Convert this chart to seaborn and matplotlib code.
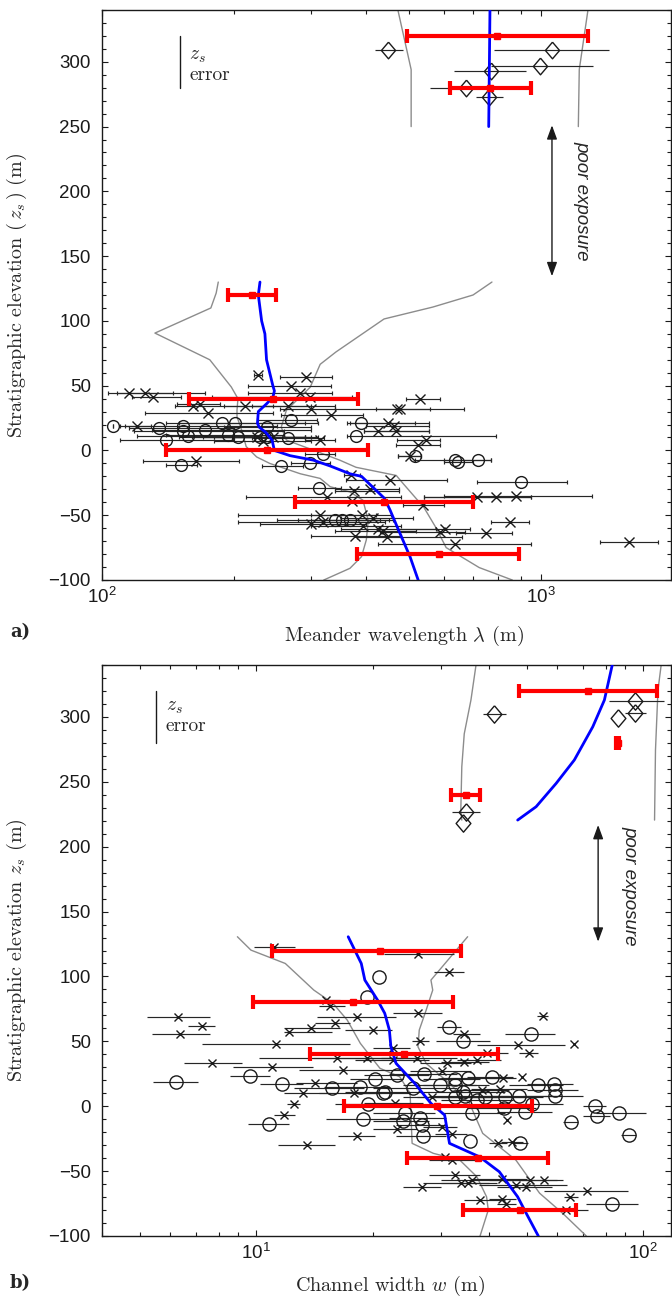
import numpy as np
import pandas as pd
import matplotlib
matplotlib.use("Agg")
import matplotlib.pyplot as plt
import seaborn as sns
from matplotlib import ticker

# ---------------- panel a : meander wavelength ----------------
# (z_s, lambda, lambda_low, lambda_high)
a_crosses = [
    (58, 227, 222, 232), (57, 291, 254, 334), (50, 270, 215, 333),
    (44.5, 115, 103, 145), (44.5, 125, 108, 172), (41, 131, 117, 151),
    (44, 283, 215, 334), (41, 298, 178, 371), (40, 530, 492, 589),
    (36, 167, 148, 186), (34, 161, 147, 245), (29, 174, 125, 245),
    (34, 212, 190, 300), (34, 265, 220, 340), (32, 300, 255, 340),
    (32, 470, 340, 668), (32, 478, 420, 560), (27, 332, 256, 393),
    (21, 449, 368, 556), (19, 462, 400, 556), (15, 425, 395, 556),
    (15, 468, 395, 556), (8, 548, 470, 588), (4, 525, 468, 588),
    (-4, 503, 472, 533), (19, 120, 113, 129), (10, 226, 160, 290),
    (10, 245, 200, 310), (7.4, 233, 180, 300), (8, 314, 290, 340),
    (-8, 164, 124, 205), (-19, 369, 356, 386), (-23, 453, 360, 611),
    (-31, 374, 340, 476), (-30, 408, 340, 476), (-36, 713, 540, 950),
    (-36, 790, 540, 950), (-35, 879, 600, 1305), (-42, 539, 485, 600),
    (-39, 371, 300, 440), (-36, 325, 213, 480), (-50, 391, 300, 455),
    (-52, 415, 350, 510), (-55, 850, 770, 937), (-58, 393, 300, 480),
    (-61, 425, 350, 577), (-62, 437, 340, 520), (-63, 589, 430, 670),
    (-61, 605, 470, 690), (-64, 750, 640, 857), (-66, 376, 300, 480),
    (-67, 445, 380, 660), (-72, 636, 426, 950), (-71, 1584, 1363, 1849),
    (-50, 314, 204, 420), (-55, 318, 204, 440), (-57, 300, 229, 400),
]
a_circles = [
    (19, 106, 106, 106), (17, 135, 115, 200), (18.6, 153, 110, 250),
    (15, 153, 118, 260), (15.6, 172, 130, 300), (21, 188, 140, 290),
    (21.5, 201, 150, 310), (12, 194, 140, 260), (10, 204, 150, 290),
    (18, 237, 190, 300), (10, 229, 170, 290), (10, 237, 180, 300),
    (9.3, 265, 220, 320), (7.8, 140, 110, 200), (11, 157, 120, 230),
    (23.4, 270, 225, 309), (21, 389, 361, 516), (11, 379, 361, 790),
    (-4, 516, 472, 533), (-7, 636, 516, 770), (-9, 647, 600, 700),
    (-7, 719, 600, 770), (-24, 902, 713, 1144), (-11, 151, 140, 165),
    (-12, 256, 231, 287), (-9.5, 297, 270, 330), (-2.4, 318, 290, 340),
    (-29, 312, 280, 350), (-54, 340, 250, 430), (-54, 352, 280, 450),
    (-54, 368, 300, 460),
]
a_diamonds = [
    (309, 449, 418, 484), (309, 1057, 782, 1425), (297, 995, 769, 1316),
    (293, 768, 635, 926), (279.5, 674, 560, 698), (272.6, 761, 710, 818),
]
a_bin_z = [320, 280, 120, 40, 0, -40, -80]
a_bin_mid = [794, 766, 220, 245, 238, 439, 586]
a_bin_lo = [495, 621, 194, 158, 140, 275, 381]
a_bin_hi = [1279, 948, 249, 383, 404, 700, 891]

a_med_top_z = [340, 250]
a_med_top = [765, 760]
a_med_low_z = [130, 120, 100, 90, 70, 50, 46, 41, 36, 30, 21, 18, 14, 8, 0,
               -4, -7.5, -12, -18, -20, -37, -46, -61, -82, -100]
a_med_low = [229, 227, 231, 235, 237, 245, 247, 245, 237, 227, 226, 228, 236,
             244, 247, 268, 303, 331, 367, 390, 440, 453, 473, 503, 525]

a_p1_top_z = [340, 294, 250]
a_p1_top = [472, 506, 506]
a_p2_top_z = [340, 294, 250]
a_p2_top = [1279, 1222, 1216]
a_p1_low_z = [130, 121.5, 110, 90.6, 70, 49, 40, 31, 26, 15.7, 3, -5, -10,
              -18, -21.6, -28, -32, -38.4, -54, -69, -82, -91, -100]
a_p1_low = [184, 182, 177, 132, 176, 197, 204, 203, 203, 208, 213, 225, 241,
            283, 314, 331, 367, 393, 404, 400, 390, 367, 320]
a_p2_low_z = [130, 120, 110.7, 101.5, 76, 66.5, 48.8, 31, 18, 8, 0.2, -7.5,
              -13, -19.3, -25.5, -44, -59.5, -75, -90.4, -100]
a_p2_low = [773, 700, 567, 439, 341, 314, 298, 263, 256, 263, 303, 348, 379,
            468, 485, 541, 576, 608, 723, 860]

# ---------------- panel b : channel width ----------------
b_crosses = [
    (123, 11.1, 9.9, 12.6), (117, 26.2, 21.4, 32.5), (103.6, 31.6, 28.9, 34.5),
    (69, 6.30, 5.22, 7.61), (62, 7.24, 6.68, 7.84), (56, 6.36, 5.40, 7.61),
    (48, 11.26, 7.24, 17.5), (33, 7.7, 6.5, 9.2), (30, 11.0, 8.7, 14.0),
    (18, 14.2, 12.7, 18.2), (10, 13.2, 11.8, 15.5), (2, 12.5, 12.0, 13.0),
    (-7, 11.8, 11.1, 12.6), (-30, 13.5, 11.4, 16.0), (82, 15.2, 14.0, 16.5),
    (77, 15.5, 14.5, 17.0), (69, 18.2, 14.4, 23.0), (64, 16.0, 14.2, 17.5),
    (57, 12.2, 11.8, 15.7), (60, 13.9, 11.8, 16.5), (59, 20.0, 17.0, 22.5),
    (37, 16.2, 10.2, 24.0), (37, 19.3, 14.0, 26.0), (28, 16.8, 12.9, 24.0),
    (10, 17.9, 14.5, 21.0), (-23, 18.2, 16.3, 20.3), (72, 26.2, 22.6, 30.2),
    (69.5, 55.1, 53.1, 56.9), (55.6, 34.5, 32.3, 37.9), (50, 26.5, 25.3, 28.0),
    (47, 47.4, 37.2, 62.7), (48, 66.1, 66.1, 66.1), (41, 50.7, 47.9, 53.6),
    (45, 22.6, 20.0, 25.0), (41, 39.5, 33.0, 44.8), (36, 22.6, 18.0, 28.0),
    (37, 26.0, 21.0, 33.0), (33, 31.1, 26.5, 36.0), (34, 34.5, 30.0, 40.0),
    (35.6, 37.2, 33.0, 43.0), (27, 30.2, 25.0, 36.0), (21.4, 43.5, 40.0, 47.0),
    (22.2, 48.7, 48.7, 48.7), (12.9, 42.7, 36.0, 50.0), (12.4, 38.3, 33.0, 45.0),
    (6.8, 28.4, 24.0, 33.0), (2.2, 22.8, 19.0, 27.0), (-10.7, 44.5, 44.5, 44.5),
    (-15.8, 30.2, 27.0, 33.0), (-21.5, 32.0, 29.0, 35.0), (-17.8, 23.1, 20.0, 26.0),
    (-28.2, 42.2, 40.0, 44.5), (-27.4, 45.7, 43.0, 49.0), (-39, 30.8, 28.0, 35.0),
    (-41.5, 32.0, 28.0, 37.0), (-53, 32.7, 28.0, 38.0), (-56.5, 36.1, 30.0, 45.0),
    (-59, 35.3, 30.0, 42.0), (-59.5, 33.9, 27.0, 40.0), (-55.7, 43.1, 36.0, 50.0),
    (-56.5, 51.0, 40.0, 60.0), (-57, 55.3, 45.0, 62.0), (-62, 49.9, 42.0, 58.0),
    (-60.8, 47.0, 37.7, 63.6), (-62, 26.8, 24.0, 30.0), (-65.5, 71.5, 55.6, 91.6),
    (-69.8, 64.8, 62.6, 67.8), (-72.3, 37.9, 34.5, 43.9), (-71.5, 43.3, 40.0, 47.0),
    (-75.4, 44.3, 42.0, 47.0), (-80, 63.3, 55.0, 72.0),
]
b_circles = [
    (19, 6.2, 5.43, 7.07), (23, 9.65, 8.57, 10.86), (17, 11.65, 10.24, 13.25),
    (-14, 10.8, 9.55, 12.2), (14, 15.7, 12.5, 19.0), (15, 18.6, 15.0, 22.0),
    (21, 20.3, 17.5, 24.0), (10, 21.3, 18.0, 25.0), (2, 19.5, 16.0, 23.0),
    (-10, 18.9, 15.2, 23.5), (99.5, 20.8, 20.8, 20.8), (84, 19.3, 19.3, 19.3),
    (61, 31.5, 29.3, 33.9), (56, 51.2, 43.9, 59.2), (50, 34.2, 29.1, 40.2),
    (24, 23.1, 19.0, 28.0), (24.5, 27.1, 22.0, 33.0), (21.4, 35.3, 30.0, 42.0),
    (22.5, 40.6, 35.0, 46.0), (21, 32.7, 27.0, 38.0), (16.3, 29.8, 24.0, 37.0),
    (13.8, 25.5, 20.0, 33.0), (11, 21.5, 17.0, 27.0), (16.3, 32.6, 27.0, 40.0),
    (11, 34.3, 27.0, 44.0), (7, 32.7, 26.0, 42.0), (8, 34.6, 28.0, 45.0),
    (7.3, 39.1, 30.0, 52.0), (5, 37.2, 30.0, 46.0), (7.3, 43.9, 35.0, 55.0),
    (8, 47.7, 38.0, 60.0), (1.5, 51.5, 42.0, 62.0), (16.3, 53.4, 45.0, 62.0),
    (17.5, 58.8, 50.0, 66.0), (12.4, 59.2, 50.0, 68.0), (8, 59.2, 49.0, 70.0),
    (0.4, 75.0, 70.0, 80.0), (-7.5, 76.0, 70.0, 82.0), (-5.5, 86.5, 75.6, 101.9),
    (-12, 65.2, 62.0, 68.0), (-22.3, 91.7, 87.7, 95.9), (-5, 36.1, 30.0, 44.0),
    (-1.7, 43.7, 35.0, 53.0), (-4.3, 49.5, 42.0, 58.0), (-5, 24.2, 20.0, 29.0),
    (-11.5, 24.0, 20.0, 28.0), (-9.4, 26.5, 22.0, 31.0), (-14.5, 26.8, 23.0, 31.0),
    (-23, 27.0, 23.0, 31.0), (-26.6, 35.8, 35.8, 35.8), (-28.2, 48.1, 46.0, 50.5),
    (-75, 82.9, 71.3, 96.9),
]
b_diamonds = [
    (302, 41.3, 38.5, 44.3), (312.5, 95.5, 81.5, 113.5), (303, 95.0, 89.5, 101.5),
    (299, 86, 86, 86), (226.5, 34.9, 32.1, 37.8), (218.5, 34.3, 34.3, 34.3),
]
b_bin_z = [320, 280, 240, 120, 80, 40, 0, -40, -80]
b_bin_mid = [72.2, 86, 34.9, 20.9, 17.8, 24.1, 29.4, 37.4, 48.1]
b_bin_lo = [47.7, 85.3, 31.9, 11.0, 9.84, 13.8, 16.9, 24.6, 34.2]
b_bin_hi = [108.6, 86.7, 37.9, 33.9, 32.2, 42.1, 51.5, 56.8, 67.1]

b_med_top_z = [340, 313, 292.4, 266.8, 248.8, 230.8, 220.5]
b_med_top = [83.2, 79.4, 74.1, 66.4, 59.6, 52.9, 47.4]
b_med_low_z = [130.6, 110, 97.2, 81.8, 71.6, 58.7, 45.8, 33, 17.6, 2.2, -6.8,
               -28.6, -39, -50.5, -69.8, -82.6, -100]
b_med_low = [17.3, 18.7, 19.1, 20.6, 21.5, 22.1, 22.3, 23.0, 25.7, 28.3, 30.7,
             31.6, 37.8, 42.5, 47.4, 49.9, 53.6]

b_p1_top_z = [340, 313, 287, 261.6, 228, 220.5]
b_p1_top = [37.0, 35.9, 34.5, 34.0, 33.8, 34.0]
b_p2_top_z = [340, 320.7, 274.5, 220.5]
b_p2_top = [111.3, 109.2, 107.6, 107.0]
b_p1_low_z = [130.6, 120.3, 110, 89.5, 79.3, 66.4, 48.4, 35.6, 29.2, 22.7, 10,
              -28.6, -36.3, -41.5, -54.4, -69.8, -80, -100]
b_p1_low = [8.95, 9.7, 11.9, 14.1, 15.8, 17.2, 18.6, 20.1, 20.9, 23.5, 25.0,
            25.3, 28.7, 33.6, 37.2, 39.4, 39.8, 37.9]
b_p2_low_z = [130.6, 97.2, 89.5, 74, 58.7, 45.8, 33, 17.6, 2.2, -20.9, -41.5,
              -67, -82.6, -100]
b_p2_low = [35.2, 28.3, 28.6, 27.5, 26.4, 26.2, 27.5, 31.6, 35.6, 38.5, 46.9,
            54.0, 62.0, 71.3]

x_labels = [r"Meander wavelength $\lambda$ (m)", r"Channel width $w$ (m)"]
y_labels = [r"Stratigraphic elevation ($\,z_s\,$) (m)",
            r"Stratigraphic elevation $z_s$ (m)"]
panel_tags = ["a)", "b)"]
note_text = "poor exposure"

# ---------------- style ----------------
sns.set_theme(style="ticks")
plt.rcParams["font.family"] = ["Liberation Sans", "DejaVu Sans"]
plt.rcParams["mathtext.fontset"] = "custom"
plt.rcParams["mathtext.rm"] = "Liberation Sans"
plt.rcParams["mathtext.it"] = "Liberation Sans:italic"
plt.rcParams["mathtext.bf"] = "Liberation Sans:bold"
plt.rcParams["axes.unicode_minus"] = True

W, H = 672, 1297
fig = plt.figure(figsize=(W / 100, H / 100), dpi=100)
ax_a = fig.add_axes([102 / W, 1 - 580 / H, 569 / W, 570 / H])
ax_b = fig.add_axes([102 / W, 1 - 1236 / H, 569 / W, 571 / H])

DIAMOND = [(0, 1), (0.85, 0), (0, -1), (-0.85, 0), (0, 1)]


def frame(rows):
    return pd.DataFrame(rows, columns=["z", "v", "lo", "hi"])


def draw_points(ax, rows, marker, ms, caps):
    df = frame(rows)
    ax.errorbar(df.v, df.z, xerr=[df.v - df.lo, df.hi - df.v], fmt="none",
                ecolor="0.15", elinewidth=0.85, capsize=caps, capthick=0.85,
                zorder=2)
    ax.plot(df.v, df.z, ls="none", marker=marker, ms=ms, mfc="none",
            mec="k", mew=1.0, zorder=2.5)


def draw_line(ax, x, y, color, lw, z):
    sns.lineplot(x=x, y=y, sort=False, estimator=None, color=color, lw=lw,
                 ax=ax, zorder=z)


def draw_bins(ax, z, mid, lo, hi):
    mid = np.asarray(mid); lo = np.asarray(lo); hi = np.asarray(hi)
    ax.errorbar(mid, z, xerr=[mid - lo, hi - mid], fmt="s", color="red",
                ms=4, elinewidth=3.0, capsize=5, capthick=3.0, zorder=4)


def style_axes(ax, xlim):
    ax.set_xscale("log")
    ax.set_xlim(*xlim)
    ax.set_ylim(-100, 340)
    ax.yaxis.set_major_locator(ticker.MultipleLocator(50))
    ax.yaxis.set_minor_locator(ticker.MultipleLocator(10))
    ax.xaxis.set_major_locator(ticker.LogLocator(base=10))
    ax.xaxis.set_minor_locator(ticker.LogLocator(base=10, subs=np.arange(2, 10)))
    ax.xaxis.set_minor_formatter(ticker.NullFormatter())
    ax.xaxis.set_major_formatter(ticker.FuncFormatter(
        lambda v, p: r"$\mathdefault{10^{%d}}$" % int(round(np.log10(v)))))
    ax.tick_params(which="both", direction="in", top=True, right=True,
                   width=0.8, colors="k", labelsize=13.5)
    ax.tick_params(which="major", length=4.5)
    ax.tick_params(which="minor", length=2.6)
    ax.tick_params(axis="y", pad=8)
    ax.tick_params(axis="x", pad=5)
    for s in ax.spines.values():
        s.set_linewidth(1.0)
        s.set_color("k")
    ax.grid(False)


# ---------------- panel a ----------------
ax = ax_a
for xs, zs in [(a_p1_top, a_p1_top_z), (a_p2_top, a_p2_top_z),
               (a_p1_low, a_p1_low_z), (a_p2_low, a_p2_low_z)]:
    draw_line(ax, xs, zs, "0.55", 1.0, 1)
draw_points(ax, a_crosses, "x", 7, 1.6)
draw_points(ax, a_circles, "o", 8.5, 1.6)
draw_points(ax, a_diamonds, DIAMOND, 12, 0)
draw_line(ax, a_med_top, a_med_top_z, "blue", 2.0, 3)
draw_line(ax, a_med_low, a_med_low_z, "blue", 2.0, 3)
draw_bins(ax, a_bin_z, a_bin_mid, a_bin_lo, a_bin_hi)
style_axes(ax, (100, 1977))
ax.plot([150.6, 150.6], [280, 320], color="k", lw=1.0)
ax.text(158, 304, r"$z_s$", fontsize=14, math_fontfamily="cm",
        ha="left", va="center")
ax.text(158, 290, "error", fontsize=14, family="cmr10", ha="left",
        va="center")
ax.annotate("", xy=(1059, 251), xytext=(1059, 134.5),
            arrowprops=dict(arrowstyle="<|-|>,head_length=0.6,head_width=0.22",
                            color="k", lw=1.0, mutation_scale=14,
                            shrinkA=0, shrinkB=0))
ax.text(1238, 193, note_text, rotation=-90, fontsize=13.5, style="italic",
        ha="center", va="center")

# ---------------- panel b ----------------
ax = ax_b
for xs, zs in [(b_p1_top, b_p1_top_z), (b_p2_top, b_p2_top_z),
               (b_p1_low, b_p1_low_z), (b_p2_low, b_p2_low_z)]:
    draw_line(ax, xs, zs, "0.55", 1.0, 1)
draw_points(ax, b_crosses, "x", 6, 0)
draw_points(ax, b_circles, "o", 9.5, 0)
draw_points(ax, b_diamonds, DIAMOND, 12.5, 0)
draw_line(ax, b_med_top, b_med_top_z, "blue", 2.0, 3)
draw_line(ax, b_med_low, b_med_low_z, "blue", 2.0, 3)
draw_bins(ax, b_bin_z, b_bin_mid, b_bin_lo, b_bin_hi)
style_axes(ax, (4.0, 118))
ax.plot([5.52, 5.52], [280, 320], color="k", lw=1.0)
ax.text(5.85, 307, r"$z_s$", fontsize=14, math_fontfamily="cm",
        ha="left", va="center")
ax.text(5.85, 293, "error", fontsize=14, family="cmr10", ha="left",
        va="center")
ax.annotate("", xy=(76.5, 216.7), xytext=(76.5, 126.8),
            arrowprops=dict(arrowstyle="<|-|>,head_length=0.6,head_width=0.22",
                            color="k", lw=1.0, mutation_scale=14,
                            shrinkA=0, shrinkB=0))
ax.text(92.5, 170, note_text, rotation=-90, fontsize=13.5, style="italic",
        ha="center", va="center")

# ---------------- labels ----------------
for ax, xl, yl, xpos, ypos in [(ax_a, x_labels[0], y_labels[0], 0.531, -0.077),
                               (ax_b, x_labels[1], y_labels[1], 0.506, -0.066)]:
    ax.set_xlabel(xl, family="cmr10", fontsize=14.5, math_fontfamily="cm")
    ax.set_ylabel(yl, family="cmr10", fontsize=14.5, math_fontfamily="cm")
    ax.xaxis.set_label_coords(xpos, ypos)
    ax.yaxis.set_label_coords(-0.128, 0.5)

fig.text(20 / W, 1 - 632 / H, panel_tags[0], family="DejaVu Serif",
         weight="bold", fontsize=13, ha="center", va="center")
fig.text(20 / W, 1 - 1283 / H, panel_tags[1], family="DejaVu Serif",
         weight="bold", fontsize=13, ha="center", va="center")

fig.savefig("out.png", dpi=100)
